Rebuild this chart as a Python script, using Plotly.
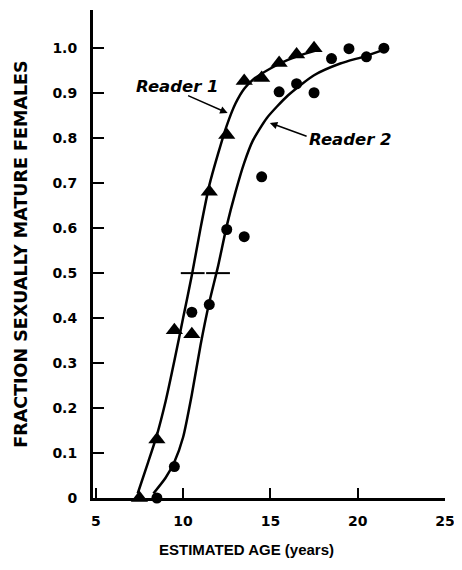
import plotly.graph_objects as go

# ---- data ----
reader1_age = [7.5, 8.5, 9.5, 10.5, 11.5, 12.5, 13.5, 14.5, 15.5, 16.5, 17.5]
reader1_frac = [0.0, 0.13, 0.373, 0.364, 0.681, 0.807, 0.927, 0.934, 0.967, 0.986, 1.0]

reader2_age = [8.5, 9.5, 10.5, 11.5, 12.5, 13.5, 14.5, 15.5, 16.5, 17.5, 18.5, 19.5, 20.5, 21.5]
reader2_frac = [0.0, 0.07, 0.413, 0.43, 0.597, 0.581, 0.714, 0.903, 0.921, 0.901, 0.977, 0.999, 0.981, 1.0]

# fitted curves
fit1_age = [7.4, 8.0, 8.5, 9.0, 9.5, 10.0, 10.5, 11.0, 11.5, 12.0, 12.5, 13.0, 13.5, 14.0, 15.0, 16.0, 17.0, 17.7]
fit1_frac = [0.01, 0.08, 0.14, 0.215, 0.305, 0.40, 0.495, 0.60, 0.695, 0.765, 0.828, 0.877, 0.91, 0.93, 0.955, 0.974, 0.988, 0.996]

fit2_age = [8.3, 9.0, 9.5, 10.0, 10.5, 11.0, 11.5, 12.0, 12.5, 13.0, 13.5, 14.0, 14.8, 16.0, 17.5, 19.0, 20.4, 21.6]
fit2_frac = [0.01, 0.045, 0.08, 0.135, 0.23, 0.34, 0.435, 0.515, 0.605, 0.68, 0.745, 0.795, 0.845, 0.895, 0.94, 0.966, 0.982, 0.998]

# ages at 50% maturity (cross marks)
age50 = [10.55, 12.0]
frac50 = [0.5, 0.5]

x_ticks = [5, 10, 15, 20, 25]
x_tick_labels = ["5", "10", "15", "20", "25"]
y_ticks = [0, 0.1, 0.2, 0.3, 0.4, 0.5, 0.6, 0.7, 0.8, 0.9, 1.0]
y_tick_labels = ["0", "0.1", "0.2", "0.3", "0.4", "0.5", "0.6", "0.7", "0.8", "0.9", "1.0"]

FONT = "DejaVu Sans"

fig = go.Figure()

curve_line = dict(color="black", width=2.5, shape="spline", smoothing=0.6)
fig.add_trace(go.Scatter(x=fit1_age, y=fit1_frac, mode="lines", line=curve_line,
                         cliponaxis=False, showlegend=False, hoverinfo="skip"))
fig.add_trace(go.Scatter(x=fit2_age, y=fit2_frac, mode="lines", line=curve_line,
                         cliponaxis=False, showlegend=False, hoverinfo="skip"))
fig.add_trace(go.Scatter(x=age50, y=frac50, mode="markers",
                         marker=dict(symbol="line-ew", size=17, line=dict(color="black", width=2)),
                         cliponaxis=False, showlegend=False))
fig.add_trace(go.Scatter(x=reader1_age, y=reader1_frac, mode="markers", name="Reader 1",
                         marker=dict(symbol="triangle-up", size=15, color="black"),
                         cliponaxis=False, showlegend=False))
fig.add_trace(go.Scatter(x=reader2_age, y=reader2_frac, mode="markers", name="Reader 2",
                         marker=dict(symbol="circle", size=11, color="black"),
                         cliponaxis=False, showlegend=False))

label_font = dict(family=FONT, size=16.5, color="black", weight="bold", style="italic")

fig.add_annotation(x=9.68, y=0.914, xref="x", yref="y", text="Reader 1",
                   showarrow=False, font=label_font)
fig.add_annotation(x=19.58, y=0.796, xref="x", yref="y", text="Reader 2",
                   showarrow=False, font=label_font)
fig.add_annotation(x=12.55, y=0.856, xref="x", yref="y", ax=10.2, ay=0.896,
                   axref="x", ayref="y", text="", showarrow=True,
                   arrowhead=2, arrowsize=1, arrowwidth=1.5, arrowcolor="black")
fig.add_annotation(x=14.97, y=0.834, xref="x", yref="y", ax=17.16, ay=0.803,
                   axref="x", ayref="y", text="", showarrow=True,
                   arrowhead=2, arrowsize=1, arrowwidth=1.5, arrowcolor="black")

# x-axis title (sits left of the plot centre in the reference)
fig.add_annotation(x=0.435, y=0, xref="paper", yref="paper", yshift=-51,
                   text="ESTIMATED AGE (years)", showarrow=False,
                   xanchor="center", yanchor="middle",
                   font=dict(family="Liberation Sans", size=15, color="black", weight="bold"))

tick_font = dict(family=FONT, size=14, color="black", weight="bold")
ytitle_font = dict(family=FONT, size=17.5, color="black", weight="bold")

fig.update_layout(
    width=452, height=550,
    margin=dict(l=85, r=15, t=2, b=60),
    paper_bgcolor="white", plot_bgcolor="white",
    xaxis=dict(range=[4.84, 25], tickvals=x_ticks, ticktext=x_tick_labels,
               ticks="inside", ticklen=10, tickwidth=2, tickcolor="black",
               showline=True, linewidth=3, linecolor="black",
               showgrid=False, zeroline=False, tickfont=tick_font,
               ticklabelstandoff=8, automargin=False),
    yaxis=dict(range=[0, 1.085], tickvals=y_ticks, ticktext=y_tick_labels,
               ticks="inside", ticklen=11, tickwidth=2, tickcolor="black",
               showline=True, linewidth=3, linecolor="black",
               showgrid=False, zeroline=False, tickfont=tick_font,
               ticklabelstandoff=10, automargin=False,
               title=dict(text="FRACTION SEXUALLY MATURE FEMALES", font=ytitle_font, standoff=21)),
)

fig.write_html("out.html")
